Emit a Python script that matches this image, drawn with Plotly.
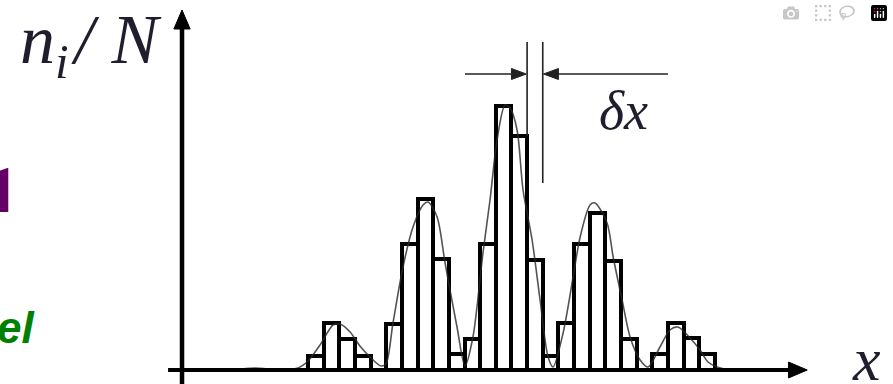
import plotly.graph_objects as go

# ---- data ----
bin_index = list(range(26))
bin_height = [14, 47, 31, 14, 0, 46, 126, 171, 111, 16, 31, 126, 264, 234, 110, 14,
              47, 126, 157, 109, 31, 0, 16, 47, 32, 16]

curve_x = [-7.40, -5.48, -3.88, -2.29, -1.14, -0.50, 0.27, 1.10, 1.55, 2.19, 2.82, 3.46,
           4.16, 4.48, 4.93, 5.57, 6.21, 6.85, 7.17, 7.75, 8.26, 9.02, 9.53, 10.04,
           10.68, 11.13, 11.58, 12.09, 12.41, 12.86, 13.24, 13.82, 14.33, 14.84, 15.16,
           15.80, 16.44, 16.89, 17.52, 17.84, 18.61, 19.00, 19.57, 20.08, 20.72, 21.23,
           21.99, 22.63, 23.14, 23.91, 24.55, 25.06, 25.64, 26.47, 30.30]
curve_y = [0, 0, 2, 0, 2, 9, 25, 45, 46, 38, 24, 13,
           4, 6, 47, 103, 143, 165, 168, 153, 107, 43, 4, 33,
           117, 170, 230, 265, 262, 240, 180, 130, 70, 13, 3,
           37, 93, 133, 165, 167, 147, 113, 70, 33, 10, 3,
           23, 40, 43, 32, 20, 8, 3, 0, 0]

y_label = "<i>n</i><sub><i>i</i></sub><i>\u200a/ N</i>"
x_label = "<i>x</i>"
width_label = "<i>δx</i>"
cut_text_1 = "<b>1</b>"
cut_text_2 = "<i>el</i>"

# the page's body margin is removed below, so the figure fills the window
OFF = 0
W, H = 893, 384
X_RANGE = [-20.18, 36.88]
Y_RANGE = [-14, 370]


def px(xp):
    return (xp - OFF) / W


def py(yp):
    return 1 - (yp - OFF) / H


fig = go.Figure()
fig.add_trace(go.Bar(
    x=bin_index, y=bin_height, width=1,
    marker=dict(color="white", line=dict(color="black", width=4)),
    hoverinfo="skip"))
fig.add_trace(go.Scatter(
    x=curve_x, y=curve_y, mode="lines",
    line=dict(color="rgba(40,40,40,0.8)", width=1.6, shape="spline", smoothing=0.8),
    hoverinfo="skip"))

ax_x = -8.55   # position of vertical axis
ink = "black"
shapes = [
    dict(type="line", x0=ax_x, x1=ax_x, y0=Y_RANGE[0], y1=345, line=dict(color=ink, width=4.5)),
    dict(type="path", path=f"M {ax_x} 360 L {ax_x-0.52} 341 L {ax_x+0.52} 341 Z",
         fillcolor=ink, line=dict(color=ink, width=1)),
    dict(type="line", x0=-9.44, x1=30.6, y0=0, y1=0, line=dict(color=ink, width=4)),
    dict(type="path", path="M 31.4 0 L 30.2 8 L 30.2 -8 Z",
         fillcolor=ink, line=dict(color=ink, width=1)),
    dict(type="line", x0=13.5, x1=13.5, y0=bin_height[13], y1=328, line=dict(color="#222", width=1.6)),
    dict(type="line", x0=14.5, x1=14.5, y0=187, y1=328, line=dict(color="#222", width=1.6)),
    dict(type="line", x0=9.53, x1=12.8, y0=296, y1=296, line=dict(color="#222", width=1.6)),
    dict(type="path", path="M 13.45 296 L 12.5 301.5 L 12.5 290.5 Z",
         fillcolor="#222", line=dict(color="#222", width=1)),
    dict(type="line", x0=15.2, x1=22.5, y0=296, y1=296, line=dict(color="#222", width=1.6)),
    dict(type="path", path="M 14.55 296 L 15.5 301.5 L 15.5 290.5 Z",
         fillcolor="#222", line=dict(color="#222", width=1)),
]

serif = "Liberation Serif"
annotations = [
    dict(xref="paper", yref="paper", x=px(163), y=py(45), xanchor="right", yanchor="middle",
         text=y_label, showarrow=False, font=dict(family=serif, size=70, color="#1e1e2e")),
    dict(xref="paper", yref="paper", x=px(850), y=py(359), xanchor="left", yanchor="middle",
         text=x_label, showarrow=False, font=dict(family=serif, size=62, color="#1e1e2e")),
    dict(xref="paper", yref="paper", x=px(597), y=py(111), xanchor="left", yanchor="middle",
         text=width_label, showarrow=False, font=dict(family=serif, size=54, color="#1e1e2e")),
    dict(xref="paper", yref="paper", x=px(22), y=py(190), xanchor="right", yanchor="middle",
         text=cut_text_1, showarrow=False,
         font=dict(family="Roboto", size=62, color="#660066")),
    dict(xref="paper", yref="paper", x=px(36), y=py(327), xanchor="right", yanchor="middle",
         text=cut_text_2, showarrow=False,
         font=dict(family="Arial", size=44, color="#008000", weight="bold")),
]

fig.update_layout(
    width=W, height=H, margin=dict(l=0, r=0, t=0, b=0),
    paper_bgcolor="white", plot_bgcolor="white", showlegend=False,
    bargap=0,
    xaxis=dict(range=X_RANGE, visible=False, fixedrange=True),
    yaxis=dict(range=Y_RANGE, visible=False, fixedrange=True),
    shapes=shapes, annotations=annotations,
)
fig.write_html(
    "out.html",
    post_script="document.body.style.margin='0';document.body.style.overflow='hidden';",
)
